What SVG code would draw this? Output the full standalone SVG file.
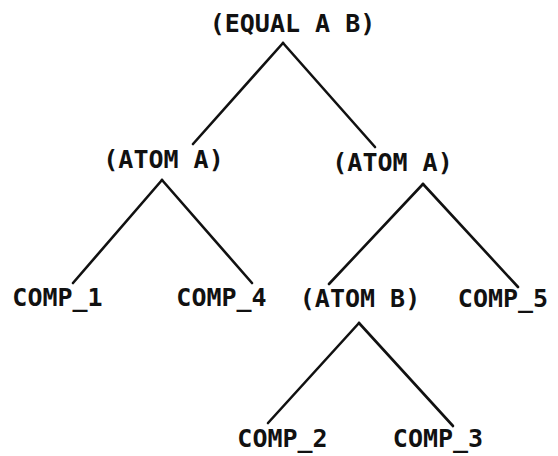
<svg xmlns="http://www.w3.org/2000/svg" width="558" height="456" viewBox="0 0 558 456">
<style>
text{font-family:"DejaVu Sans Mono","Liberation Mono",monospace;font-size:25px;font-weight:bold;fill:#111;text-anchor:middle;}
.e line{stroke:#111;stroke-width:2.6;stroke-linecap:round;}
</style>
<rect width="558" height="456" fill="#fff"/>
<g id="connectors" class="e">
<line x1="283" y1="43" x2="193" y2="144"/>
<line x1="283" y1="43" x2="375" y2="147"/>
<line x1="162" y1="180" x2="73" y2="283"/>
<line x1="162" y1="180" x2="252" y2="283"/>
<line x1="423" y1="184" x2="329" y2="284"/>
<line x1="423" y1="184" x2="518" y2="287"/>
<line x1="359" y1="323" x2="268" y2="423"/>
<line x1="359" y1="323" x2="453" y2="426"/>
</g>
<g id="n-equal"><text x="292.5" y="32">(EQUAL A B)</text></g>
<g id="n-atomA-left"><text x="163.5" y="168">(ATOM A)</text></g>
<g id="n-atomA-right"><text x="392.5" y="171">(ATOM A)</text></g>
<g id="n-comp1"><text x="57.5" y="306">COMP_1</text></g>
<g id="n-comp4"><text x="221.5" y="306">COMP_4</text></g>
<g id="n-atomB"><text x="360" y="307">(ATOM B)</text></g>
<g id="n-comp5"><text x="503" y="307">COMP_5</text></g>
<g id="n-comp2"><text x="282.5" y="447">COMP_2</text></g>
<g id="n-comp3"><text x="438" y="447">COMP_3</text></g>
</svg>
